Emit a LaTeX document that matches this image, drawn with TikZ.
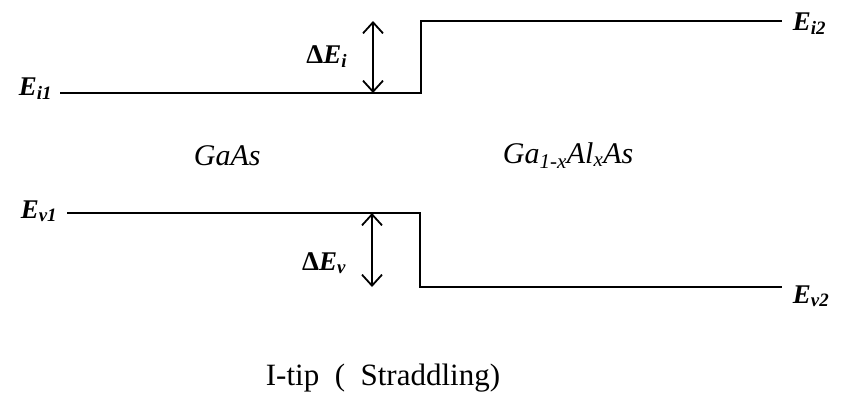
\documentclass[tikz,border=0pt]{standalone}
\usepackage{fontspec}
\setmainfont{Liberation Serif}
\usetikzlibrary{arrows.meta}
\newcommand{\enlev}[2]{\textbf{\textit{#1}\textsubscript{\textit{#2}}}}

\begin{document}
\begin{tikzpicture}[x=1pt, y=-1pt, >={Straight Barb[length=11pt, width=20pt]}, line width=1.8pt]
    \tikzset{bandlbl/.style={font=\fontsize{27}{29}\selectfont, inner sep=0pt},
             matlbl/.style={font=\fontsize{30}{32}\selectfont\itshape, inner sep=0pt},
             caplbl/.style={font=\fontsize{31}{34}\selectfont, inner sep=0pt}}
    \useasboundingbox (0,0) rectangle (841,408);
    % conduction band edge
    \node[bandlbl, anchor=base east] (Ei1) at (53,95) {\enlev{E}{i1}};
    \node[bandlbl, anchor=base west] (Ei2) at (792,30) {\enlev{E}{i2}};
    \coordinate (ci1) at (60,93);
    \coordinate (cstep) at (421,93);
    \coordinate (cstepup) at (421,21);
    \coordinate (ci2) at (782,21);
    \draw (ci1) -- (cstep) -- (cstepup) -- (ci2);
    % valence band edge
    \node[bandlbl, anchor=base east] (Ev1) at (58,218) {\enlev{E}{v1}};
    \node[bandlbl, anchor=base west] (Ev2) at (792,303) {\enlev{E}{v2}};
    \coordinate (cv1) at (67,213);
    \coordinate (vstep) at (420,213);
    \coordinate (vstepdn) at (420,287);
    \coordinate (cv2) at (782,287);
    \draw (cv1) -- (vstep) -- (vstepdn) -- (cv2);
    % band offsets
    \coordinate (ditop) at (373,21);
    \coordinate (dibot) at (373,93);
    \draw[<->] (ditop) -- (dibot);
    \node[bandlbl, anchor=base east] (dEi) at (348,63) {\textbf{Δ\textit{E}\textsubscript{\textit{i}}}};
    \coordinate (dvtop) at (372,213);
    \coordinate (dvbot) at (372,287);
    \draw[<->] (dvtop) -- (dvbot);
    \node[bandlbl, anchor=base east] (dEv) at (347,270) {\textbf{Δ\textit{E}\textsubscript{\textit{v}}}};
    % materials
    \node[matlbl, anchor=base west] (gaas) at (193,165) {GaAs};
    \node[matlbl, anchor=base west] (gaalas) at (502,163) {Ga\textsubscript{1-\textit{x}}Al\textsubscript{\textit{x}}As};
    \node[caplbl, anchor=base] (cap) at (383,385) {I-tip \ (\ \ Straddling)};
\end{tikzpicture}
\end{document}
